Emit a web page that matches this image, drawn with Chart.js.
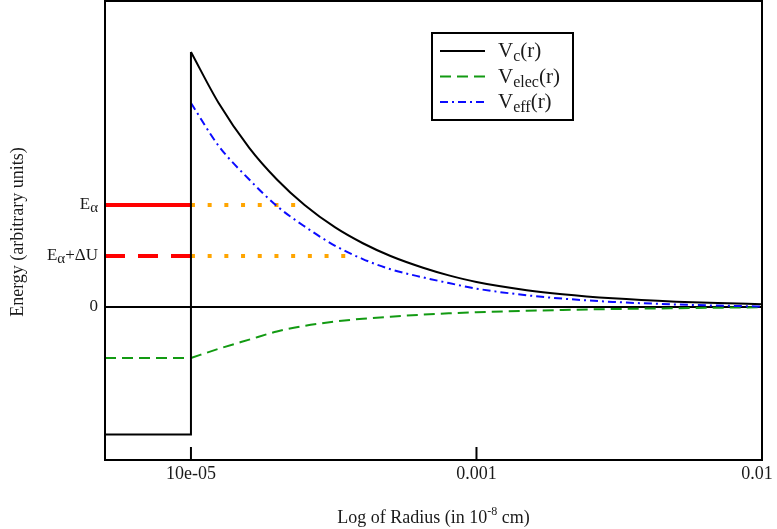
<!DOCTYPE html>
<html>
<head>
<meta charset="utf-8">
<script src="https://cdn.jsdelivr.net/npm/chart.js@4.4.0/dist/chart.umd.min.js"></script>
<style>
  html, body { margin: 0; padding: 0; background: #fff; }
  canvas { display: block; }
</style>
</head>
<body>
<canvas id="potential" width="777" height="529"></canvas>
<script>
// radius in units of 1e-8 cm, energies in arbitrary units
const radius = [1e-4, 1.25e-4, 1.6e-4, 2e-4, 2.5e-4, 3.2e-4, 4e-4, 5e-4, 6.5e-4, 8e-4, 1e-3, 1.5e-3, 2e-3, 3e-3, 5e-3, 7e-3, 1e-2];
const coulomb = [2.5, 2.0, 1.56, 1.25, 1.0, 0.78, 0.625, 0.5, 0.385, 0.31, 0.245, 0.165, 0.125, 0.085, 0.052, 0.038, 0.028];
const electronic = [-0.5, -0.41, -0.32, -0.24, -0.185, -0.142, -0.115, -0.095, -0.075, -0.062, -0.052, -0.037, -0.029, -0.02, -0.012, -0.007, -0.002];
const effective = [2.0, 1.58, 1.25, 0.99, 0.79, 0.6, 0.47, 0.37, 0.29, 0.235, 0.18, 0.115, 0.082, 0.05, 0.025, 0.014, 0.005];

const rMin = 5e-5;
const rNucleus = 1e-4;
const rMax = 1e-2;
const wellDepth = -1.25;
const alphaEnergy = 1.0;
const shiftedEnergy = 0.5;
const alphaTurn = 2.35e-4;
const shiftedTurn = 3.48e-4;

const xTicks = [1e-4, 1e-3, 1e-2];
const xTickLabels = ['10e-05', '0.001', '0.01'];
const yTicks = [alphaEnergy, shiftedEnergy, 0];
// each label is a list of [text, subscript?]
const yTickLabels = [
  [['E', false], ['\u03b1', true]],
  [['E', false], ['\u03b1', true], ['+\u0394U', false]],
  [['0', false]]
];
const legendItems = [
  { main: 'V', sub: 'c', color: '#000000', dash: [] },
  { main: 'V', sub: 'elec', color: '#129a12', dash: [11, 6] },
  { main: 'V', sub: 'eff', color: '#0b0bff', dash: [8, 4, 2, 4] }
];

const SERIF = '"Liberation Serif", "DejaVu Serif", serif';
const INK = '#1a1a1a';

const pts = (xs, ys) => xs.map((x, i) => ({ x: x, y: ys[i] }));

// draws text pieces with optional subscripts, returns total width
function richText(ctx, x, y, pieces, size, subSize, subDrop, measureOnly) {
  let w = 0;
  pieces.forEach(([txt, sub]) => {
    ctx.font = (sub ? subSize : size) + 'px ' + SERIF;
    if (!measureOnly) ctx.fillText(txt, x + w, y + (sub ? subDrop : 0));
    w += ctx.measureText(txt).width;
  });
  return w;
}

const overlay = {
  id: 'overlay',
  beforeDatasetsDraw(chart) {
    const { ctx, chartArea: a, scales } = chart;
    const y0 = scales.y.getPixelForValue(0);
    ctx.save();
    ctx.strokeStyle = '#000';
    ctx.lineWidth = 2;
    ctx.beginPath();
    ctx.moveTo(a.left, y0);
    ctx.lineTo(a.right, y0);
    ctx.stroke();
    ctx.restore();
  },
  afterDraw(chart) {
    const { ctx, chartArea: a, scales } = chart;
    ctx.save();

    // plot frame
    ctx.strokeStyle = '#000';
    ctx.lineWidth = 2;
    ctx.strokeRect(a.left, a.top, a.right - a.left, a.bottom - a.top);

    // x ticks point inward from the bottom edge
    ctx.fillStyle = INK;
    ctx.textBaseline = 'middle';
    xTicks.forEach((v, i) => {
      const px = scales.x.getPixelForValue(v);
      ctx.beginPath();
      ctx.moveTo(px, a.bottom);
      ctx.lineTo(px, a.bottom - 13);
      ctx.stroke();
      ctx.font = '18px ' + SERIF;
      ctx.textAlign = 'center';
      ctx.fillText(xTickLabels[i], Math.min(px, chart.width - 20), 474);
    });

    // y labels
    ctx.textAlign = 'left';
    yTicks.forEach((v, i) => {
      const py = scales.y.getPixelForValue(v);
      const w = richText(ctx, 0, 0, yTickLabels[i], 17, 15, 3, true);
      richText(ctx, 98 - w, py, yTickLabels[i], 17, 15, 3, false);
    });

    // axis titles
    const xt = [['Log of Radius (in 10', 0], ['-8', -6], [' cm)', 0]];
    let tw = 0;
    xt.forEach(([t, d]) => { ctx.font = (d ? 12 : 18) + 'px ' + SERIF; tw += ctx.measureText(t).width; });
    let tx = (a.left + a.right) / 2 - tw / 2;
    xt.forEach(([t, d]) => {
      ctx.font = (d ? 12 : 18) + 'px ' + SERIF;
      ctx.fillText(t, tx, 518 + d);
      tx += ctx.measureText(t).width;
    });

    ctx.save();
    ctx.translate(18, 232);
    ctx.rotate(-Math.PI / 2);
    ctx.font = '18px ' + SERIF;
    ctx.textAlign = 'center';
    ctx.fillText('Energy (arbitrary units)', 0, 0);
    ctx.restore();

    // legend box
    ctx.fillStyle = '#fff';
    ctx.fillRect(432, 33, 141, 87);
    ctx.strokeStyle = '#000';
    ctx.lineWidth = 2;
    ctx.strokeRect(432, 33, 141, 87);
    legendItems.forEach((it, i) => {
      const ly = 51 + i * 25.5;
      ctx.strokeStyle = it.color;
      ctx.setLineDash(it.dash);
      ctx.beginPath();
      ctx.moveTo(440, ly);
      ctx.lineTo(485, ly);
      ctx.stroke();
      ctx.setLineDash([]);
      ctx.fillStyle = INK;
      ctx.textBaseline = 'alphabetic';
      richText(ctx, 498, ly + 6, [[it.main, false], [it.sub, true], ['(r)', false]], 21, 16, 4, false);
    });

    ctx.restore();
  }
};

const line = (data, color, width, dash, extra) => Object.assign({
  data: data,
  borderColor: color,
  borderWidth: width,
  borderDash: dash,
  borderCapStyle: 'butt',
  pointRadius: 0,
  fill: false,
  tension: 0
}, extra || {});

new Chart(document.getElementById('potential'), {
  type: 'line',
  data: {
    datasets: [
      line(pts(radius, coulomb), '#000', 2, [], { cubicInterpolationMode: 'monotone', order: 0 }),
      line([{ x: rMin, y: wellDepth }, { x: rNucleus, y: wellDepth }, { x: rNucleus, y: coulomb[0] }], '#000', 2, [], { order: 0 }),
      line([{ x: rMin, y: electronic[0] }, { x: rNucleus, y: electronic[0] }], '#129a12', 2, [11, 6], { order: 2 }),
      line(pts(radius, electronic), '#129a12', 2, [11, 6], { cubicInterpolationMode: 'monotone', order: 2 }),
      line(pts(radius, effective), '#0b0bff', 2, [8, 4, 2, 4], { cubicInterpolationMode: 'monotone', order: 1 }),
      line([{ x: rMin, y: alphaEnergy }, { x: rNucleus, y: alphaEnergy }], '#ff0000', 4, [], { order: 3 }),
      line([{ x: rMin, y: shiftedEnergy }, { x: rNucleus, y: shiftedEnergy }], '#ff0000', 4, [20, 13], { order: 3 }),
      line([{ x: rNucleus, y: alphaEnergy }, { x: alphaTurn, y: alphaEnergy }], '#ffa500', 4, [4, 12.7], { order: 3 }),
      line([{ x: rNucleus, y: shiftedEnergy }, { x: shiftedTurn, y: shiftedEnergy }], '#ffa500', 4, [4, 12.7], { order: 3 })
    ]
  },
  options: {
    responsive: false,
    animation: false,
    layout: { padding: { left: 105, right: 15, top: 1, bottom: 69 } },
    plugins: {
      legend: { display: false },
      tooltip: { enabled: false }
    },
    scales: {
      x: { type: 'logarithmic', min: rMin, max: rMax, display: false },
      y: { type: 'linear', min: -1.5, max: 3.0, display: false }
    }
  },
  plugins: [overlay]
});
</script>
</body>
</html>
